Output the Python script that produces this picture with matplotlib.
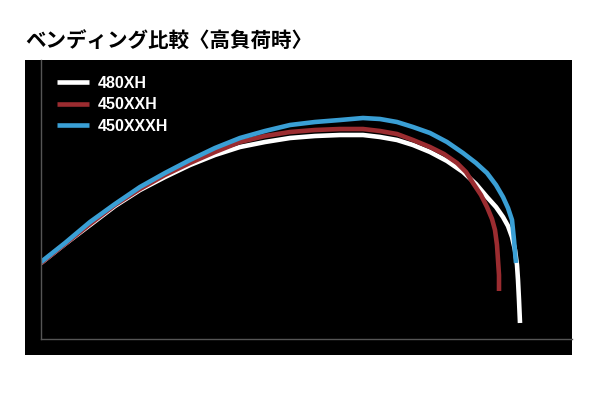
import matplotlib.pyplot as plt
from matplotlib.patches import Rectangle

plt.rcParams['font.family'] = ['Noto Sans CJK JP', 'DejaVu Sans']

# bending curves (x = deflection, y = height)
white_x = [0, 24, 49, 74, 99, 124, 149, 174, 199, 224, 249, 274, 299, 322, 339, 356, 372, 389, 406, 422,
           435, 446, 455, 462, 467, 471, 474, 476, 477, 478, 479]
white_y = [76, 95, 114, 133, 149, 162, 174, 184, 192, 197, 201, 203, 204, 204, 202, 199, 194, 187, 178, 167,
           155, 142, 132, 122, 113, 102, 89, 74, 59, 39, 16]

red_x = [0, 24, 49, 74, 99, 124, 149, 174, 199, 224, 249, 274, 299, 322, 339, 356, 372, 389, 403, 416,
         425, 432, 440, 446, 451, 454, 456, 457, 458, 458]
red_y = [76, 95, 115, 134, 150, 164, 176, 187, 197, 203, 207, 209, 210, 210, 208, 205, 199, 192, 185, 176,
         167, 156, 144, 132, 120, 109, 94, 79, 64, 48]

blue_x = [0, 24, 49, 74, 99, 124, 149, 174, 199, 224, 249, 274, 299, 322, 339, 356, 372, 389, 406, 422,
          435, 446, 455, 462, 467, 471, 472, 473, 474, 475]
blue_y = [77, 96, 117, 135, 152, 166, 179, 191, 201, 208, 214, 217, 219, 221, 220, 217, 212, 206, 197, 186,
          176, 166, 154, 142, 131, 119, 109, 99, 87, 76]

labels = ['480XH', '450XXH', '450XXXH']
colors = ['#ffffff', '#9b2c30', '#3a9fd5']

fig = plt.figure(figsize=(6, 4), dpi=100)
fig.patches.append(Rectangle((25 / 600, 45 / 400), 547 / 600, 295 / 400,
                             transform=fig.transFigure, facecolor='black', zorder=-5))
fig.text(25 / 600, 1 - 40 / 400, 'ベンディング比較〈高負荷時〉', fontsize=14.8,
         fontweight='bold', va='center', ha='left', color='black')

ax = fig.add_axes([41 / 600, 61 / 400, 531 / 600, 279 / 400])
ax.set_zorder(1)
ax.set_facecolor('none')
ax.set_xlim(0, 531)
ax.set_ylim(0, 279)
for s in ['top', 'right']:
    ax.spines[s].set_visible(False)
for s in ['left', 'bottom']:
    ax.spines[s].set_color('#555555')
    ax.spines[s].set_linewidth(1)
ax.set_xticks([])
ax.set_yticks([])

for xs, ys, c, lab in zip([white_x, red_x, blue_x], [white_y, red_y, blue_y], colors, labels):
    ax.plot(xs, ys, color=c, lw=3.3, solid_capstyle='butt', solid_joinstyle='round', label=lab)

leg = ax.legend(loc='upper left', bbox_to_anchor=(0.0, 1.0), frameon=False,
                handlelength=2.0, handletextpad=0.55, labelspacing=0.4,
                borderaxespad=0.6, prop={'family': 'Liberation Sans', 'weight': 'bold', 'size': 11.5})
for t in leg.get_texts():
    t.set_color('white')

fig.savefig('out.png', dpi=100)
